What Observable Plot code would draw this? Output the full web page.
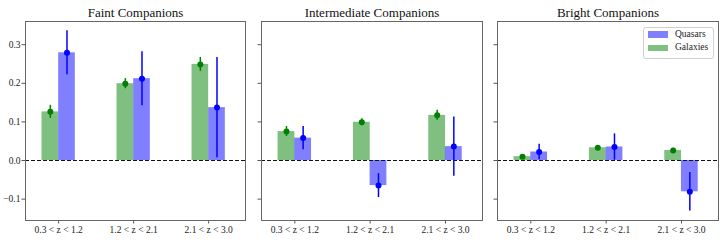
<!DOCTYPE html>
<html>
<head>
<meta charset="utf-8">
<script src="https://cdn.jsdelivr.net/npm/d3@7"></script>
<script src="https://cdn.jsdelivr.net/npm/@observablehq/plot@0.6"></script>
<style>
  html, body { margin: 0; padding: 0; background: white; }
  #chart { position: relative; width: 728px; height: 242px; overflow: hidden; font-family: "Liberation Serif", "Times New Roman", Times, "DejaVu Serif", "Noto Serif", serif; }
  #chart svg { position: absolute; top: 0; }
  #chart svg, #chart svg text { font-family: "Liberation Serif", "Times New Roman", Times, "DejaVu Serif", "Noto Serif", serif !important; }
  .legend { position: absolute; left: 643px; top: 26.5px; width: 69px; height: 30px; border: 1px solid #d0d0d0; border-radius: 3px; background: rgba(255,255,255,0.85); font-size: 9.5px; color: #222; }
  .legend .row { position: absolute; left: 4px; height: 7px; }
  .legend .sw { position: absolute; left: 0; top: 0; width: 19.5px; height: 6.5px; }
  .legend .lb { position: absolute; left: 27px; top: -3.5px; white-space: nowrap; line-height: 12px; }
</style>
</head>
<body>
<div id="chart"></div>
<script>
// ---- data ----
const bins = ["0.3 < z < 1.2", "1.2 < z < 2.1", "2.1 < z < 3.0"];
const panelTitles = ["Faint Companions", "Intermediate Companions", "Bright Companions"];
const seriesNames = ["Quasars", "Galaxies"];
// per panel (faint, intermediate, bright), per redshift bin
const galaxyValues = [[0.126, 0.199, 0.249], [0.075, 0.099, 0.117], [0.010, 0.033, 0.026]];
const galaxyErrors = [[0.017, 0.013, 0.018], [0.013, 0.009, 0.013], [0.004, 0.004, 0.006]];
const quasarValues = [[0.279, 0.212, 0.137], [0.058, -0.065, 0.036], [0.022, 0.035, -0.081]];
const quasarErrors = [[0.057, 0.070, 0.130], [0.030, 0.031, 0.077], [0.020, 0.034, 0.050]];
const yTicks = [-0.1, 0.0, 0.1, 0.2, 0.3];

// ---- style ----
const GREEN = "#008000", BLUE = "#0000ff";
const FONT = "Liberation Serif, Times New Roman, Times, DejaVu Serif, serif";
const half = 16.67, off = 8.33;

const layouts = [
  {left: 0, width: 253, marginLeft: 25, marginRight: 8, labels: true},
  {left: 253, width: 237, marginLeft: 8, marginRight: 8, labels: false},
  {left: 490, width: 238, marginLeft: 7, marginRight: 10, labels: false}
];

const chart = document.getElementById("chart");

layouts.forEach((L, i) => {
  const rows = bins.map((bin, j) => ({
    bin,
    g: galaxyValues[i][j], ge: galaxyErrors[i][j],
    q: quasarValues[i][j], qe: quasarErrors[i][j]
  }));
  const svg = Plot.plot({
    width: L.width, height: 242,
    marginLeft: L.marginLeft, marginRight: L.marginRight, marginTop: 21, marginBottom: 22,
    style: {fontFamily: FONT, fontSize: "9.5px", color: "#222", background: "white", overflow: "visible"},
    x: {type: "band", domain: bins, paddingInner: 0.556, paddingOuter: 0.2446, align: 0.45, round: false},
    y: {domain: [-0.1554, 0.3601]},
    marks: [
      Plot.barY(rows, {x: "bin", y: "g", fill: GREEN, fillOpacity: 0.5, insetRight: half}),
      Plot.barY(rows, {x: "bin", y: "q", fill: BLUE, fillOpacity: 0.5, insetLeft: half}),
      Plot.ruleY([0], {stroke: "#111", strokeWidth: 1.2, strokeDasharray: "4,2"}),
      Plot.ruleX(rows, {x: "bin", y1: d => d.g - d.ge, y2: d => d.g + d.ge, dx: -off, stroke: GREEN, strokeWidth: 1.5}),
      Plot.dot(rows, {x: "bin", y: "g", dx: -off, r: 3, fill: GREEN, stroke: "none"}),
      Plot.ruleX(rows, {x: "bin", y1: d => d.q - d.qe, y2: d => d.q + d.qe, dx: off, stroke: BLUE, strokeWidth: 1.5}),
      Plot.dot(rows, {x: "bin", y: "q", dx: off, r: 3, fill: BLUE, stroke: "none"}),
      Plot.axisX({label: null, tickSize: 3.5, tickPadding: 2, stroke: "#555", fill: "#222", fontSize: 9.5}),
      Plot.axisY({
        label: null, ticks: yTicks, tickSize: 3.5, tickPadding: 1.5, stroke: "#555", fill: "#222", fontSize: 9.5,
        tickFormat: L.labels ? d3.format(".1f") : () => ""
      }),
      Plot.frame({stroke: "#666", strokeWidth: 1}),
      Plot.text([panelTitles[i]], {text: d => d, frameAnchor: "top", lineAnchor: "middle", dy: -8.5, fontSize: 13, fill: "#111"})
    ]
  });
  svg.style.left = L.left + "px";
  chart.appendChild(svg);
});

// legend (inside the Bright Companions panel)
const legend = document.createElement("div");
legend.className = "legend";
const legendColors = {Quasars: BLUE, Galaxies: GREEN};
seriesNames.forEach((name, k) => {
  const row = document.createElement("div");
  row.className = "row";
  row.style.top = (3.5 + k * 13.6) + "px";
  const sw = document.createElement("div");
  sw.className = "sw";
  sw.style.background = legendColors[name];
  sw.style.opacity = 0.5;
  const lb = document.createElement("div");
  lb.className = "lb";
  lb.textContent = name;
  row.appendChild(sw);
  row.appendChild(lb);
  legend.appendChild(row);
});
chart.appendChild(legend);
</script>
</body>
</html>
